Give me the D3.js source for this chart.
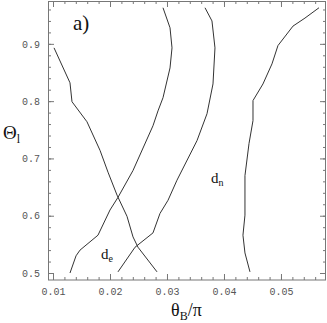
<!DOCTYPE html>
<html>
<head>
<meta charset="utf-8">
<script src="https://cdnjs.cloudflare.com/ajax/libs/d3/7.8.5/d3.min.js"></script>
<style>
  body { margin: 0; background: #fff; }
  .tick text { font-family: "Liberation Mono", "DejaVu Sans Mono", monospace; font-size: 10px; fill: #555; }
  .lbl { font-family: "Liberation Serif", "DejaVu Serif", serif; fill: #111; }
</style>
</head>
<body>
<div class="content"></div>
<script>
const w = 327;
const h = 323;
const m = {top: 1, right: 1, bottom: 43, left: 48};

// curve data: theta_B/pi (x) vs Theta_l (y)
const crossX = [0.01018, 0.01298, 0.01333, 0.01596, 0.01825, 0.01965, 0.02123, 0.02298, 0.02404, 0.02491, 0.02825];
const crossY = [0.893, 0.832, 0.799, 0.764, 0.714, 0.676, 0.636, 0.599, 0.563, 0.545, 0.502];

const deX = [0.01298, 0.01404, 0.01474, 0.01789, 0.0200, 0.0214, 0.02404, 0.02754, 0.02842, 0.0293, 0.03053, 0.03088, 0.03053, 0.0293];
const deY = [0.500, 0.530, 0.540, 0.566, 0.610, 0.632, 0.679, 0.757, 0.783, 0.806, 0.858, 0.893, 0.928, 0.963];

const midX = [0.0214, 0.02439, 0.02754, 0.02877, 0.03018, 0.03175, 0.03526, 0.03702, 0.03807, 0.03842, 0.03789, 0.03667];
const midY = [0.502, 0.545, 0.570, 0.604, 0.627, 0.662, 0.731, 0.778, 0.830, 0.893, 0.940, 0.963];

const dnX = [0.04456, 0.04368, 0.04333, 0.04368, 0.04368, 0.04439, 0.04509, 0.04509, 0.04684, 0.04842, 0.04947, 0.05211, 0.05421, 0.05667];
const dnY = [0.502, 0.535, 0.566, 0.601, 0.670, 0.726, 0.766, 0.801, 0.830, 0.865, 0.897, 0.931, 0.945, 0.963];

const xTicks = [0.01, 0.02, 0.03, 0.04, 0.05];
const yTicks = [0.5, 0.6, 0.7, 0.8, 0.9];

const iw = w - m.left - m.right;
const ih = h - m.top - m.bottom;

const x = d3.scaleLinear().domain([0.00912, 0.0579]).range([0, iw]);
const y = d3.scaleLinear().domain([0.4878, 0.9748]).range([ih, 0]);

const svg = d3.select('.content').append('svg')
	.attr('width', w)
	.attr('height', h);

const g = svg.append('g')
	.attr('transform', `translate(${m.left},${m.top})`);

const xMinor = d3.range(0.01, 0.0579, 0.002);
const yMinor = d3.range(0.5, 0.9748, 0.02);

function styleAxis(sel) {
	sel.select('.domain').remove();
	sel.selectAll('line').attr('stroke', '#777');
}

// bottom axis with labels
g.append('g').attr('transform', `translate(0,${ih})`)
	.call(d3.axisBottom(x).tickValues(xMinor).tickSize(-3).tickFormat(''))
	.call(styleAxis);
g.append('g').attr('transform', `translate(0,${ih})`)
	.call(d3.axisBottom(x).tickValues(xTicks).tickSize(-6).tickPadding(8).tickFormat(d3.format('.2f')))
	.call(styleAxis);
// top axis
g.append('g')
	.call(d3.axisTop(x).tickValues(xMinor).tickSize(-3).tickFormat(''))
	.call(styleAxis);
g.append('g')
	.call(d3.axisTop(x).tickValues(xTicks).tickSize(-6).tickFormat(''))
	.call(styleAxis);
// left axis with labels
g.append('g')
	.call(d3.axisLeft(y).tickValues(yMinor).tickSize(-3).tickFormat(''))
	.call(styleAxis);
g.append('g')
	.call(d3.axisLeft(y).tickValues(yTicks).tickSize(-6).tickPadding(8).tickFormat(d3.format('.1f')))
	.call(styleAxis);
// right axis
g.append('g').attr('transform', `translate(${iw},0)`)
	.call(d3.axisRight(y).tickValues(yMinor).tickSize(-3).tickFormat(''))
	.call(styleAxis);
g.append('g').attr('transform', `translate(${iw},0)`)
	.call(d3.axisRight(y).tickValues(yTicks).tickSize(-6).tickFormat(''))
	.call(styleAxis);

g.append('rect')
	.attr('x', 0.5).attr('y', 0.5)
	.attr('width', iw - 1).attr('height', ih - 0.5)
	.attr('fill', 'none')
	.attr('stroke', '#777');

const line = d3.line()
	.x(d => x(d[0]))
	.y(d => y(d[1]));

const curves = [[crossX, crossY], [deX, deY], [midX, midY], [dnX, dnY]];
g.selectAll('path.curve')
	.data(curves)
	.enter()
	.append('path')
	.attr('class', 'curve')
	.attr('d', c => line(d3.zip(c[0], c[1])))
	.attr('fill', 'none')
	.attr('stroke', '#333')
	.attr('stroke-width', 1);

// labels
svg.append('text').attr('class', 'lbl')
	.attr('x', 73).attr('y', 30)
	.style('font-size', '21px')
	.text('a)');

const ylab = svg.append('text').attr('class', 'lbl')
	.attr('x', 3).attr('y', 139)
	.style('font-size', '19px');
ylab.append('tspan').text('Θ');
ylab.append('tspan').attr('dy', 4).style('font-size', '12px').text('l');

const xlab = svg.append('text').attr('class', 'lbl')
	.attr('x', 171).attr('y', 316)
	.style('font-size', '18px');
xlab.append('tspan').text('θ');
xlab.append('tspan').attr('dy', 4).style('font-size', '12px').text('B');
xlab.append('tspan').attr('dy', -4).text('/π');

const de = svg.append('text').attr('class', 'lbl')
	.attr('x', 101).attr('y', 259)
	.style('font-size', '15px');
de.append('tspan').text('d');
de.append('tspan').attr('dy', 3).style('font-size', '10px').text('e');

const dn = svg.append('text').attr('class', 'lbl')
	.attr('x', 211).attr('y', 183)
	.style('font-size', '15px');
dn.append('tspan').text('d');
dn.append('tspan').attr('dy', 3).style('font-size', '10px').text('n');
</script>
</body>
</html>
